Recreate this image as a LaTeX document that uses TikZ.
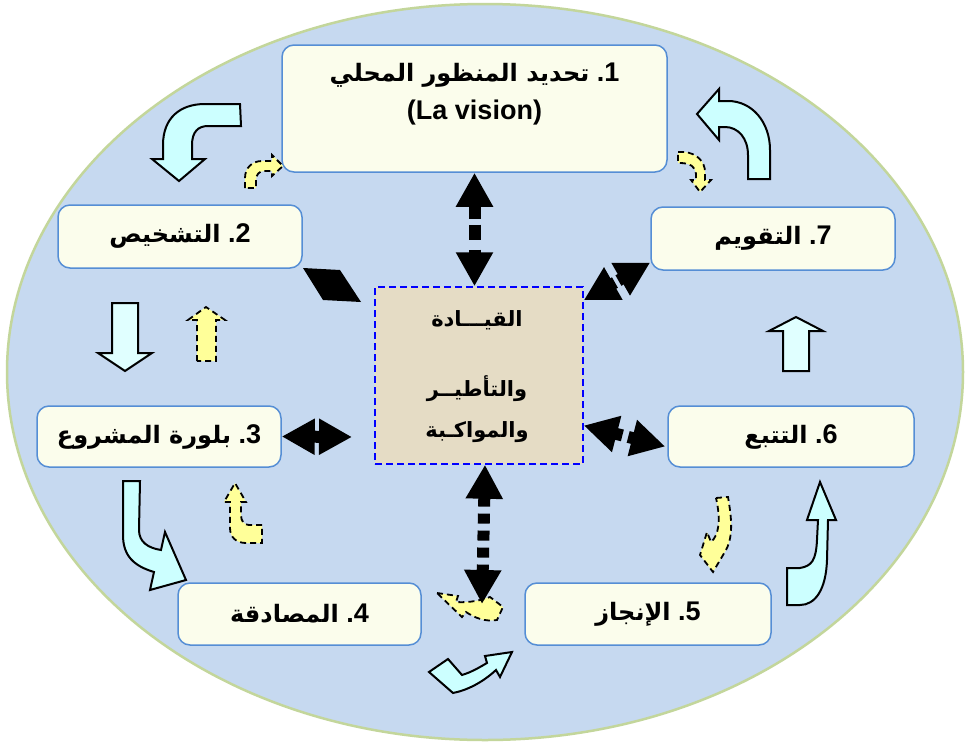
\documentclass[tikz,border=0pt]{standalone}
\usepackage{fontspec}
\setmainfont{Liberation Sans}
\newfontfamily\arabicfont[Script=Arabic]{DejaVu Sans}
\TeXXeTstate=1
\usetikzlibrary{positioning, calc, arrows.meta}

\definecolor{ovalfill}{RGB}{198,217,240}
\definecolor{ovalline}{RGB}{195,214,155}
\definecolor{boxfill}{RGB}{251,253,236}
\definecolor{boxline}{RGB}{85,142,213}
\definecolor{ctrfill}{RGB}{229,220,197}
\definecolor{cyanfill}{RGB}{204,255,255}
\definecolor{paleblue}{RGB}{224,255,255}
\definecolor{yelfill}{RGB}{255,255,153}

\newcommand{\artext}[1]{{\arabicfont\fontsize{24}{30}\selectfont\beginR #1\endR}}

\tikzset{
  stage/.style={draw=boxline, fill=boxfill, line width=1.5pt, rounded corners=12pt, inner sep=0pt,
    font=\fontsize{27}{30}\selectfont\bfseries},
  bigarrow/.style={draw=black, fill=cyanfill, line width=2pt, line join=miter},
  smallarrow/.style={draw=black, fill=yelfill, line width=1.8pt, dash pattern=on 6pt off 4pt},
  link/.style={line width=12pt, {Triangle[length=34pt,width=35pt]}-{Triangle[length=34pt,width=35pt]}},
}

\begin{document}
\begin{tikzpicture}[x=1pt, y=-1pt]
    \useasboundingbox (0,0) rectangle (970,747);
    \fill[white] (0,0) rectangle (970,747);
    \draw[ovalline, fill=ovalfill, line width=2.5pt] (485,372) ellipse [x radius=478, y radius=368];

    % stages
    \node[stage, minimum width=385pt, minimum height=127pt] (b1) at (474.5,108.5) {};
    \node[font=\fontsize{27}{30}\selectfont\bfseries, align=center, inner sep=0pt] (b1t) at (474.5,94)
        {\artext{تحديد المنظور المحلي} .1\\[8pt](La vision)};
    \node[stage, minimum width=244pt, minimum height=63pt] (b2) at (180,236.5) {\artext{التشخيص} .2};
    \node[stage, minimum width=244pt, minimum height=61pt] (b3) at (159,436.5) {\artext{بلورة المشروع} .3};
    \node[stage, minimum width=243pt, minimum height=62pt] (b4) at (299.5,614) {\artext{المصادقة} .4};
    \node[stage, minimum width=246pt, minimum height=62pt] (b5) at (648,614) {\artext{الإنجاز} .5};
    \node[stage, minimum width=246pt, minimum height=61pt] (b6) at (791,436.5) {\artext{التتبع} .6};
    \node[stage, minimum width=244pt, minimum height=63pt] (b7) at (773,238.5) {\artext{التقويم} .7};

    % centre
    \node[draw=blue, fill=ctrfill, line width=1.5pt, dash pattern=on 7pt off 4pt,
        minimum width=208pt, minimum height=177pt, inner sep=0pt] (ctr) at (479,375.5) {};
    \node[font=\arabicfont\bfseries\fontsize{21}{41}\selectfont, align=center, inner sep=0pt] (ctrt) at (477,377)
        {\beginR القيـــادة\endR\\[29pt]\beginR والتأطيــر\endR\\\beginR والمواكـبة\endR};

    % cycle arrows
    \draw[bigarrow] (240,104) -- (205,104) .. controls (180,104) and (163,118) .. (163,145) -- (163,159) -- (152,159)
        -- (179,181) -- (205,159) -- (192,159) -- (192,145) .. controls (192,132) and (198,126) .. (208,126) -- (241,126) -- cycle;
    \draw[bigarrow, fill=paleblue] (112,303) -- (138,303) -- (138,353) -- (152,353) -- (125,371) -- (98,353) -- (112,353) -- cycle;
    \draw[bigarrow] (123,481) -- (140,481) -- (139,530) .. controls (139,542) and (148,548) .. (161,550) -- (165,532)
        -- (186,580) -- (150,590) -- (154,572) .. controls (134,566) and (123,556) .. (123,535) -- cycle;
    \draw[bigarrow] (429,672) -- (448,659) -- (462,675) .. controls (472,672) and (480,667) .. (487,663) -- (485,656)
        -- (512,652) -- (500,677) -- (496,670) .. controls (483,682) and (468,690) .. (453,693) -- cycle;
    \draw[bigarrow] (787,568) -- (800,568) .. controls (812,566) and (816,560) .. (817,540) -- (818,520) -- (807,520)
        -- (820,482) -- (836,520) -- (828,520) -- (827,560) .. controls (826,590) and (815,605) .. (800,605) -- (787,605) -- cycle;
    \draw[bigarrow, fill=paleblue] (783,371) -- (783,331) -- (769,331) -- (796,317) -- (823,331) -- (809,331) -- (809,371) -- cycle;
    \draw[bigarrow] (748,179) -- (748,155) .. controls (748,138) and (738,127) .. (725,127) -- (719,127) -- (719,140)
        -- (697,114) -- (719,89) -- (719,101) -- (728,101) .. controls (752,101) and (770,122) .. (770,150) -- (770,179) -- cycle;

    % return arrows
    \draw[smallarrow] (245,188) -- (245,178) .. controls (245,168) and (252,161) .. (262,161) -- (272,161) -- (272,155)
        -- (283,166) -- (272,176) -- (272,171) -- (264,171) .. controls (259,171) and (256,175) .. (256,180) -- (256,188) -- cycle;
    \draw[smallarrow] (197,361) -- (197,320) -- (188,320) -- (206,307) -- (225,320) -- (216,320) -- (216,361) -- cycle;
    \draw[smallarrow] (262,525) -- (249,525) .. controls (244,525) and (241,521) .. (241,515) -- (241,502) -- (246,502)
        -- (235,483) -- (224,502) -- (230,502) -- (230,528) .. controls (230,537) and (236,543) .. (246,543) -- (262,543) -- cycle;
    \draw[smallarrow] (437,593) -- (458,596) -- (456,602) .. controls (470,603) and (482,600) .. (490,597) -- (503,607)
        -- (497,620) .. controls (485,622) and (475,618) .. (466,612) -- (462,617) -- cycle;
    \draw[smallarrow] (716,498) -- (728,497) .. controls (731,515) and (734,535) .. (726,550) -- (713,572) -- (700,555)
        -- (707,532) -- (711,542) .. controls (719,535) and (721,520) .. (716,498) -- cycle;
    \draw[smallarrow] (678,152) -- (684,152) .. controls (697,153) and (705,162) .. (705,172) -- (705,180) -- (711,180)
        -- (700,192) -- (691,180) -- (696,180) -- (696,174) .. controls (696,167) and (690,163) .. (680,163) -- (678,163) -- cycle;

    % links to the centre
    \coordinate (c3) at (352,437);
    \coordinate (gap45) at (482,604);
    \draw[link, dash pattern=on 14pt off 6pt on 15pt off 10pt] (b1.south) -- (b1.south |- ctr.north);
    \draw[link, dash pattern=on 10pt off 7pt] ($(ctr.south)+(6,0)$) -- (gap45);
    \draw[line width=12pt, {Triangle[length=33pt,width=34pt]}-{Triangle[length=33pt,width=34pt]}] (b3.east) -- (c3);
    \draw[link, dash pattern=on 8pt off 6pt] ($(ctr.east)+(0,50)$) -- ($(b6.west)+(-2,10)$);
    \draw[link, dash pattern=on 4pt off 4pt] ($(ctr.north east)+(0,14)$) -- ($(b7.west)+(0,24)$);
    \fill (303,268) -- (340,270) -- (361,302) -- (323,300) -- cycle;
\end{tikzpicture}
\end{document}
